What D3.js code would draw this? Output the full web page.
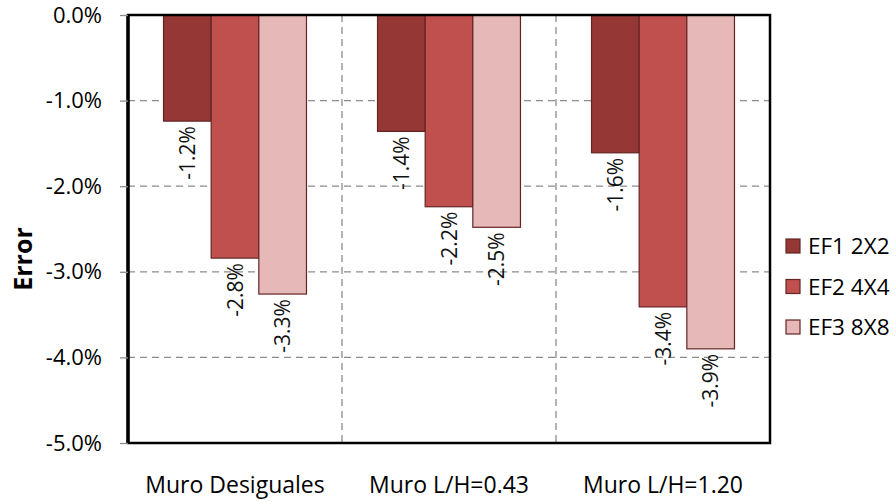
<!DOCTYPE html>
<html><head><meta charset="utf-8">
<script src="https://cdn.jsdelivr.net/npm/d3@7"></script>
<style>body{margin:0;background:#fff;} text{font-family:"Open Sans",sans-serif;}</style>
</head><body><svg id="c" width="896" height="502"></svg>
<script>
const categories = ["Muro Desiguales","Muro L/H=0.43","Muro L/H=1.20"];
const seriesNames = ["EF1 2X2","EF2 4X4","EF3 8X8"];
const ef1 = [-1.24,-1.36,-1.61];
const ef2 = [-2.84,-2.24,-3.41];
const ef3 = [-3.26,-2.48,-3.90];
const yTicks = [0,-1,-2,-3,-4,-5];
const colors = ["#953735","#C0504D","#E6B9B8"];
const series = [ef1,ef2,ef3];
const fmt = v => d3.format(".1f")(v).replace("\u2212","-")+"%";

const svg = d3.select("#c");
const L=128,R=770,T=15,B=443;
const x0 = d3.scaleBand().domain(categories).range([L,R]).paddingInner(0.332).paddingOuter(0.166);
const x1 = d3.scaleBand().domain(seriesNames).range([0,x0.bandwidth()]);
const y = d3.scaleLinear().domain([0,-5]).range([T,B]);

// gridlines
svg.append("g").selectAll("line").data(yTicks.slice(1,-1)).join("line")
  .attr("x1",L).attr("x2",R).attr("y1",d=>y(d)).attr("y2",d=>y(d))
  .attr("stroke","#8c8c8c").attr("stroke-width",1.3).attr("stroke-dasharray","7,5");
const bounds = categories.slice(1).map(c=>x0(c)-x0.step()*x0.paddingInner()/2);
svg.append("g").selectAll("line").data(bounds).join("line")
  .attr("x1",d=>d).attr("x2",d=>d).attr("y1",T).attr("y2",B)
  .attr("stroke","#8c8c8c").attr("stroke-width",1.3).attr("stroke-dasharray","7,5");

// bars
const g = svg.append("g");
categories.forEach((c,i)=>{
  seriesNames.forEach((s,j)=>{
    const v = series[j][i];
    g.append("rect").attr("x",x0(c)+x1(s)).attr("width",x1.bandwidth())
      .attr("y",y(0)).attr("height",y(v)-y(0))
      .attr("fill",colors[j]).attr("stroke","#632523").attr("stroke-width",1.2);
    const cx = x0(c)+x1(s)+x1.bandwidth()/2;
    g.append("text").attr("transform",`translate(${cx+7.5},${y(v)+5}) rotate(-90)`)
      .attr("text-anchor","end").attr("font-size",21).attr("fill","#111")
      .text(fmt(v));
  });
});

// frame
svg.append("rect").attr("x",L).attr("y",T).attr("width",R-L).attr("height",B-T)
  .attr("fill","none").attr("stroke","#000").attr("stroke-width",2.5);
svg.append("line").attr("x1",L).attr("x2",L).attr("y1",T).attr("y2",B).attr("stroke","#000").attr("stroke-width",3.5);

// y axis
const ya = svg.append("g").attr("transform",`translate(${L},0)`)
  .call(d3.axisLeft(y).tickValues(yTicks).tickSize(8).tickSizeOuter(0).tickFormat(fmt));
ya.select(".domain").remove();
ya.selectAll("line").attr("stroke","#8c8c8c").attr("stroke-width",1.3);
ya.selectAll("text").attr("font-size",22).attr("fill","#000").attr("x",-26).style("font-family","'Open Sans',sans-serif");

// x labels
svg.append("g").selectAll("text").data(categories).join("text")
  .attr("x",d=>x0(d)+x0.bandwidth()/2).attr("y",493).attr("text-anchor","middle")
  .attr("font-size",23).attr("fill","#000").text(d=>d);

// y title
svg.append("text").attr("transform","translate(32,259) rotate(-90)").attr("text-anchor","middle")
  .attr("font-size",25).attr("font-weight","bold").text("Error");

// legend
const lg = svg.append("g").selectAll("g").data(seriesNames).join("g")
  .attr("transform",(d,i)=>`translate(786,${246+i*40.5})`);
lg.append("rect").attr("x",0).attr("y",-7).attr("width",14).attr("height",14)
  .attr("fill",(d,i)=>colors[i]).attr("stroke","#632523").attr("stroke-width",1.2);
lg.append("text").attr("x",22).attr("y",8).attr("font-size",22.5).attr("fill","#000").text(d=>d);
</script></body></html>
